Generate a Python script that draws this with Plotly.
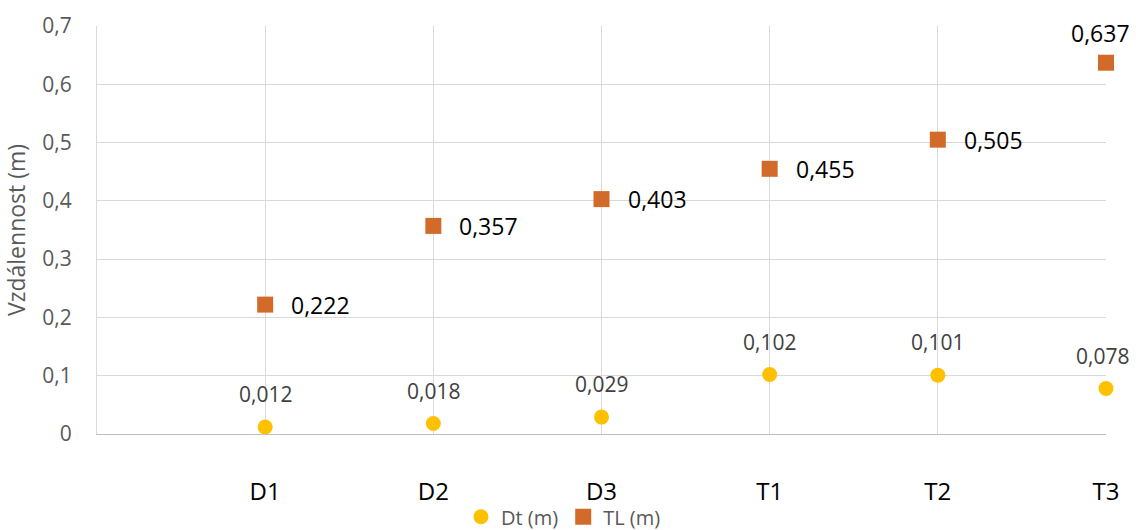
import plotly.graph_objects as go

categories = ["D1", "D2", "D3", "T1", "T2", "T3"]
dt_values = [0.012, 0.018, 0.029, 0.102, 0.101, 0.078]
tl_values = [0.222, 0.357, 0.403, 0.455, 0.505, 0.637]
y_ticks = [0, 0.1, 0.2, 0.3, 0.4, 0.5, 0.6, 0.7]

FONT = "Open Sans"
DT_COLOR = "#FFC000"
TL_COLOR = "#D26A2A"
GRID = "#D9D9D9"

xs = list(range(1, len(categories) + 1))


def fmt(v):
    return f"{v:.3f}".replace(".", ",")


fig = go.Figure()
fig.add_trace(go.Scatter(
    x=xs, y=dt_values, mode="markers", name="Dt (m)",
    marker=dict(symbol="circle", size=15, color=DT_COLOR),
    cliponaxis=False,
))
fig.add_trace(go.Scatter(
    x=xs, y=tl_values, mode="markers", name="TL (m)",
    marker=dict(symbol="square", size=16, color=TL_COLOR),
    cliponaxis=False,
))

annotations = []
for i, (x, v) in enumerate(zip(xs, dt_values)):
    annotations.append(dict(
        x=x, y=v, xref="x", yref="y", text=fmt(v), showarrow=False,
        yshift=33, xshift=(-4 if i == len(xs) - 1 else 0),
        font=dict(family=FONT, size=21, color="#404040"),
    ))
for i, (x, v) in enumerate(zip(xs, tl_values)):
    if i == len(xs) - 1:
        annotations.append(dict(
            x=x, y=v, xref="x", yref="y", text=fmt(v), showarrow=False,
            yshift=30, xshift=-6, font=dict(family=FONT, size=23, color="#000000"),
        ))
    else:
        annotations.append(dict(
            x=x, y=v, xref="x", yref="y", text=fmt(v), showarrow=False,
            xanchor="left", xshift=24, font=dict(family=FONT, size=23, color="#000000"),
        ))

fig.update_layout(
    width=1136, height=530,
    margin=dict(l=97, r=30, t=26, b=96),
    paper_bgcolor="white", plot_bgcolor="white",
    separators=", ",
    font=dict(family=FONT, color="#595959"),
    showlegend=True,
    legend=dict(
        orientation="h", xref="container", yref="container",
        x=0.496, xanchor="center", y=0.025, yanchor="middle",
        font=dict(family=FONT, size=20, color="#595959"),
        bgcolor="rgba(0,0,0,0)",
        itemwidth=30, tracegroupgap=0,
    ),
    annotations=annotations,
)
fig.update_xaxes(
    range=[0, 6], tickvals=[0] + xs, ticktext=[""] + categories,
    showgrid=True, gridcolor=GRID, gridwidth=1,
    showline=True, linecolor="#BFBFBF", linewidth=1,
    ticks="outside", ticklen=36, tickcolor="rgba(0,0,0,0)",
    tickfont=dict(family=FONT, size=24, color="#000000"),
    zeroline=False, fixedrange=True, automargin=False,
)
fig.update_yaxes(
    range=[0, 0.7], tickvals=y_ticks,
    showgrid=True, gridcolor=GRID, gridwidth=1,
    showline=True, linecolor=GRID, linewidth=1,
    ticks="outside", ticklen=20, tickcolor="rgba(0,0,0,0)",
    tickfont=dict(family=FONT, size=21, color="#595959"),
    title=dict(text="Vzdálennost (m)", font=dict(family=FONT, size=23, color="#595959"), standoff=10),
    zeroline=False, fixedrange=True, automargin=False,
)

fig.write_html(
    "out.html",
    config={"displayModeBar": False},
    post_script="document.body.style.margin='0';document.body.style.overflow='hidden';",
)
